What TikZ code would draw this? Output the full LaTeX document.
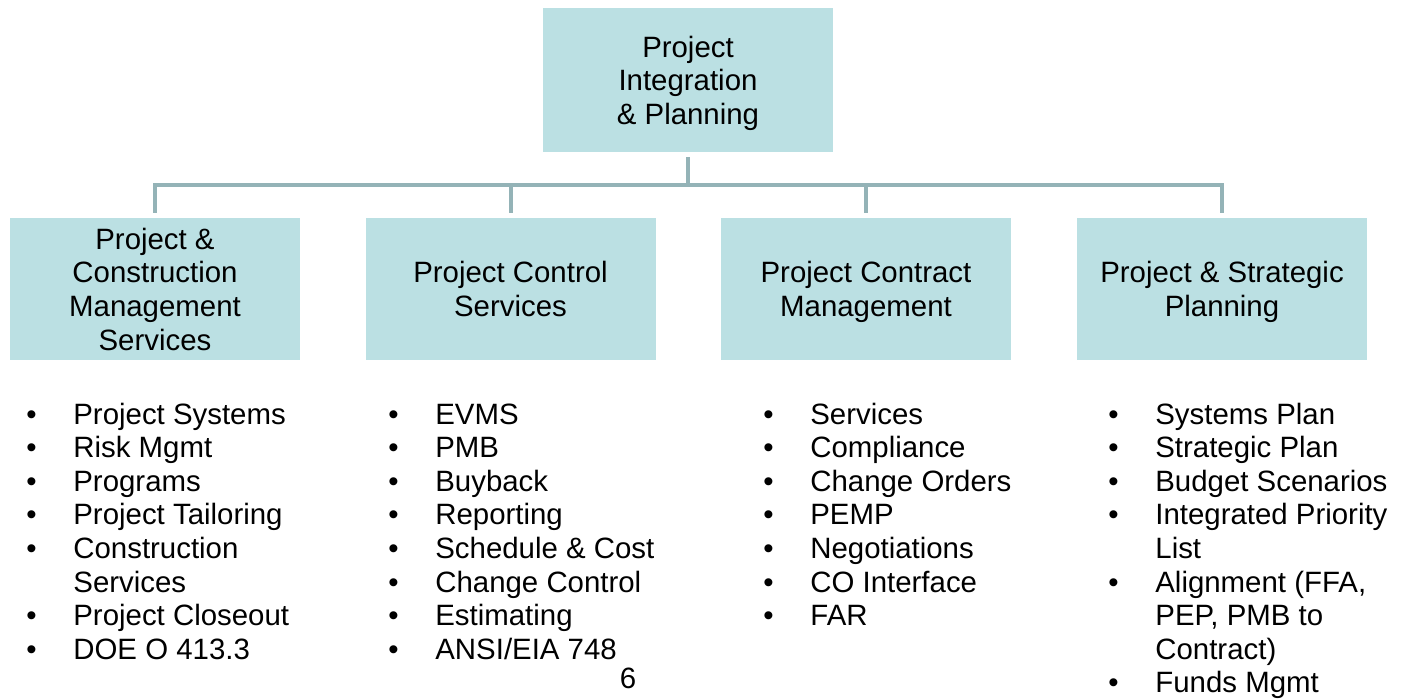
\documentclass[tikz,border=0pt]{standalone}
\usepackage{fontspec}
\setmainfont{Liberation Sans}
\definecolor{boxfill}{HTML}{BBE0E3}
\definecolor{linkgray}{HTML}{94B3B7}
% bullet list: bullet column, then the text column
\newcommand{\bulletlist}[1]{\begin{tabular}[t]{@{}p{23.5pt}@{}l@{}}#1\end{tabular}}
\begin{document}
\begin{tikzpicture}[x=0.5pt,y=-0.5pt, font=\fontsize{14.7pt}{16.8pt}\selectfont, line join=miter,
	unit/.style={fill=boxfill, minimum width=145pt, minimum height=71pt, inner sep=0pt, align=center, text depth=0pt},
	conn/.style={draw=linkgray, line width=2pt, line cap=rect},
	list/.style={anchor=base west, inner sep=0pt}]
		\useasboundingbox (0,0) rectangle (1405,698);
		\def\yb{289} \def\yl{424} % box centres, first list baseline
		% boxes
		\node[unit, minimum height=72pt] (pip) at (688,80) {Project\\Integration\\\& Planning};
		\node[unit] (pcm) at (155,\yb) {Project \&\\Construction\\Management\\Services};
		\node[unit] (pcs) at (510.5,\yb) {Project Control\\Services};
		\node[unit] (pct) at (866,\yb) {Project Contract\\Management};
		\node[unit] (psp) at (1222,\yb) {Project \& Strategic\\Planning};
		% connectors
		\coordinate (bus) at (688,185);
		\draw[conn] ([yshift=-3.5pt]pip.south) -- (bus);
		\draw[conn] (pcm.north |- bus) -- (psp.north |- bus);
		\foreach \n in {pcm,pcs,pct,psp}
			\draw[conn] (\n.north |- bus) -- ([yshift=3.5pt]\n.north);
		% lists
		\node[list] (lpcm) at (26,\yl) {\bulletlist{%
			\textbullet & Project Systems\\ \textbullet & Risk Mgmt\\ \textbullet & Programs\\
			\textbullet & Project Tailoring\\ \textbullet & Construction\\ & Services\\
			\textbullet & Project Closeout\\ \textbullet & DOE O 413.3}};
		\node[list] (lpcs) at (388,\yl) {\bulletlist{%
			\textbullet & EVMS\\ \textbullet & PMB\\ \textbullet & Buyback\\ \textbullet & Reporting\\
			\textbullet & Schedule \& Cost\\ \textbullet & Change Control\\ \textbullet & Estimating\\
			\textbullet & ANSI/EIA 748}};
		\node[list] (lpct) at (763,\yl) {\bulletlist{%
			\textbullet & Services\\ \textbullet & Compliance\\ \textbullet & Change Orders\\
			\textbullet & PEMP\\ \textbullet & Negotiations\\ \textbullet & CO Interface\\
			\textbullet & FAR}};
		\node[list] (lpsp) at (1108,\yl) {\bulletlist{%
			\textbullet & Systems Plan\\ \textbullet & Strategic Plan\\ \textbullet & Budget Scenarios\\
			\textbullet & Integrated Priority\\ & List\\ \textbullet & Alignment (FFA,\\ & PEP, PMB to\\
			& Contract)\\ \textbullet & Funds Mgmt}};
		% page number
		\node[anchor=base, inner sep=0pt] (pg) at (628,688) {6};
\end{tikzpicture}
\end{document}
